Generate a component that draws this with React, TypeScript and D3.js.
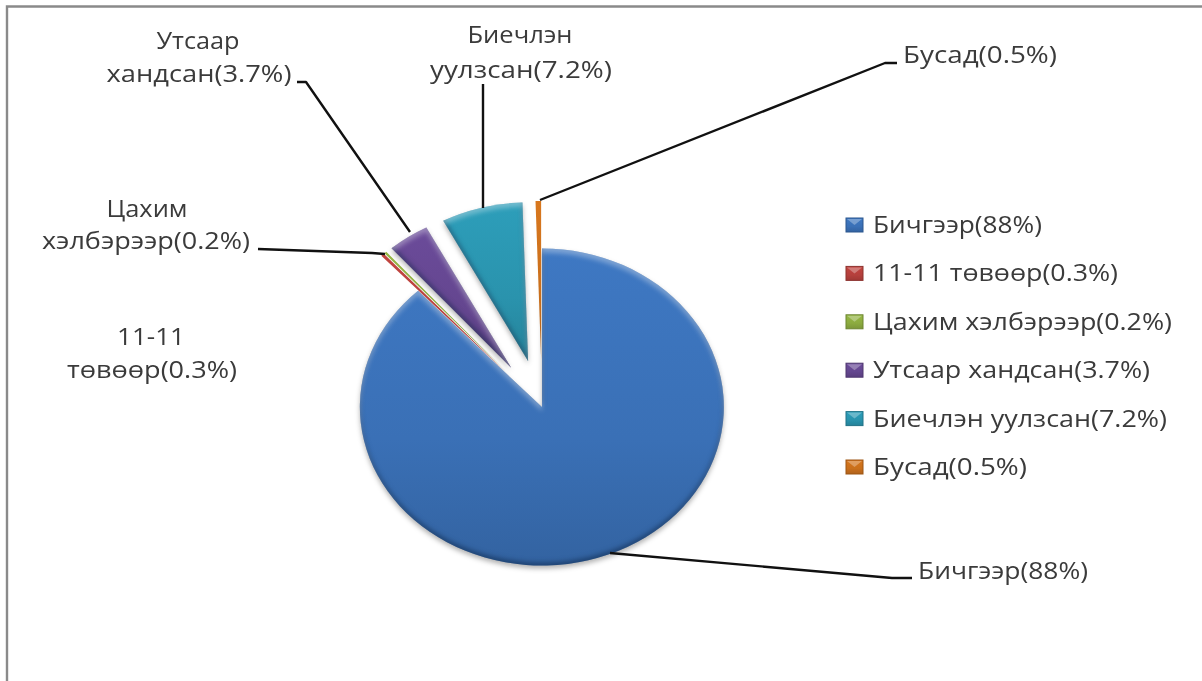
import React from "react";
import * as d3 from "d3";

const categories = ["Бичгээр", "11-11 төвөөр", "Цахим хэлбэрээр", "Утсаар хандсан", "Биечлэн уулзсан", "Бусад"];
const values = [88, 0.3, 0.2, 3.7, 7.2, 0.5];
const explode = [0, 0.3, 0.3, 0.3, 0.3, 0.3];
const colors = ["#3a70b6", "#b5403c", "#8cab3f", "#64468f", "#2a93ad", "#c96f1c"];
const legendLabels = ["Бичгээр(88%)", "11-11 төвөөр(0.3%)", "Цахим хэлбэрээр(0.2%)", "Утсаар хандсан(3.7%)", "Биечлэн уулзсан(7.2%)", "Бусад(0.5%)"];
const legendWidths = [169, 245, 299, 277, 294, 154];

const W = 1202, H = 681;
const CX = 542, CY = 407, RX = 182, RY = 158.5;
const FONT = "'Open Sans', 'Noto Sans', sans-serif";
const INK = "#3a3a3a";

const calloutLabels = [
  { lines: ["Утсаар", "хандсан(3.7%)"], x: [198, 199], y: [49, 82], w: [83, 185] },
  { lines: ["Биечлэн", "уулзсан(7.2%)"], x: [520, 521], y: [43, 78], w: [105, 182] },
  { lines: ["Бусад(0.5%)"], x: [980], y: [63], w: [154] },
  { lines: ["Цахим", "хэлбэрээр(0.2%)"], x: [147, 146], y: [217, 249], w: [81, 208] },
  { lines: ["11-11", "төвөөр(0.3%)"], x: [151, 152], y: [345, 378], w: [68, 170] },
  { lines: ["Бичгээр(88%)"], x: [1003], y: [579], w: [170] },
];
const leaders = [
  [[297, 82], [306, 82], [410, 232]],
  [[483, 84], [483, 208]],
  [[897, 63], [885, 63], [540, 200]],
  [[258, 249], [372, 253], [385, 254]],
  [[610, 553], [892, 578], [912, 578]],
];

const scaleX = d3.scaleLinear().domain([-1, 1]).range([-RX, RX]);
const scaleY = d3.scaleLinear().domain([-1, 1]).range([-RY, RY]);

export default function App() {
  const pie = d3.pie<number>().sort(null)(values);
  const arc = d3.arc<d3.PieArcDatum<number>>().innerRadius(0).outerRadius(1);
  const line = d3.line();
  return (
    <svg width={W} height={H} style={{ position: "fixed", left: 0, top: 0, background: "#fff" }}>
      <defs>
        <filter id="bevel" x="-15%" y="-15%" width="130%" height="130%" colorInterpolationFilters="sRGB">
          <feOffset in="SourceAlpha" dy="4" result="downA" />
          <feGaussianBlur in="downA" stdDeviation="2.5" result="downB" />
          <feComposite in="SourceAlpha" in2="downB" operator="out" result="topEdge" />
          <feFlood floodColor="#ffffff" floodOpacity="0.35" />
          <feComposite in2="topEdge" operator="in" result="hi" />
          <feOffset in="SourceAlpha" dy="-3" result="upA" />
          <feGaussianBlur in="upA" stdDeviation="2.5" result="upB" />
          <feComposite in="SourceAlpha" in2="upB" operator="out" result="botEdge" />
          <feFlood floodColor="#08203f" floodOpacity="0.5" />
          <feComposite in2="botEdge" operator="in" result="lo" />
          <feOffset in="SourceAlpha" dy="3" result="so" />
          <feGaussianBlur in="so" stdDeviation="2.5" result="sb" />
          <feFlood floodColor="#000" floodOpacity="0.3" />
          <feComposite in2="sb" operator="in" result="shadow" />
          <feMerge>
            <feMergeNode in="shadow" />
            <feMergeNode in="SourceGraphic" />
            <feMergeNode in="lo" />
            <feMergeNode in="hi" />
          </feMerge>
        </filter>
        <filter id="soft" x="-5%" y="-20%" width="110%" height="140%">
          <feGaussianBlur stdDeviation="0.35" />
        </filter>
        {colors.map((c, i) => (
          <linearGradient key={i} id={`g${i}`} x1="0" y1="0" x2="0" y2="1">
            <stop offset="0" stopColor={d3.color(c)!.brighter(0.2).formatHex()} />
            <stop offset="0.6" stopColor={c} />
            <stop offset="1" stopColor={d3.color(c)!.darker(0.35).formatHex()} />
          </linearGradient>
        ))}
      </defs>
      <path d={`M7,${H} V6.5 H${W}`} fill="none" stroke="#8a8a8a" strokeWidth={2.4} />
      <g>
        {pie.map((d, i) => {
          const mid = (d.startAngle + d.endAngle) / 2;
          const dx = scaleX(Math.sin(mid) * explode[i]);
          const dy = scaleY(-Math.cos(mid) * explode[i]);
          return (
            <g key={i} filter={i === 0 || i === 3 || i === 4 ? "url(#bevel)" : undefined}>
              <path
                d={arc(d) ?? ""}
                fill={`url(#g${i})`}
                transform={`translate(${CX + dx},${CY + dy}) scale(${RX},${RY})`}
              />
            </g>
          );
        })}
      </g>
      {leaders.map((p, i) => (
        <path key={i} d={line(p as [number, number][]) ?? ""} fill="none" stroke="#111" strokeWidth={2.4} strokeLinejoin="round" />
      ))}
      <g fontFamily={FONT} fontSize={23} fill={INK} filter="url(#soft)">
        {calloutLabels.map((l, i) =>
          l.lines.map((t, j) => (
            <text key={`${i}-${j}`} x={l.x[j]} y={l.y[j]} textAnchor="middle" textLength={l.w[j]} lengthAdjust="spacingAndGlyphs">{t}</text>
          ))
        )}
        {categories.map((_, i) => {
          const y = 225 + i * 48.4;
          return (
            <g key={i}>
              <rect x={846} y={y - 7} width={17} height={14} fill={`url(#g${i})`} stroke={d3.color(colors[i])!.darker(0.7).formatHex()} strokeWidth={1} />
              <path d={`M847,${y - 6} L854.5,${y} L862,${y - 6} Z`} fill="#fff" fillOpacity={0.3} />
              <text x={873} y={y + 8} textLength={legendWidths[i]} lengthAdjust="spacingAndGlyphs">{legendLabels[i]}</text>
            </g>
          );
        })}
      </g>
    </svg>
  );
}
